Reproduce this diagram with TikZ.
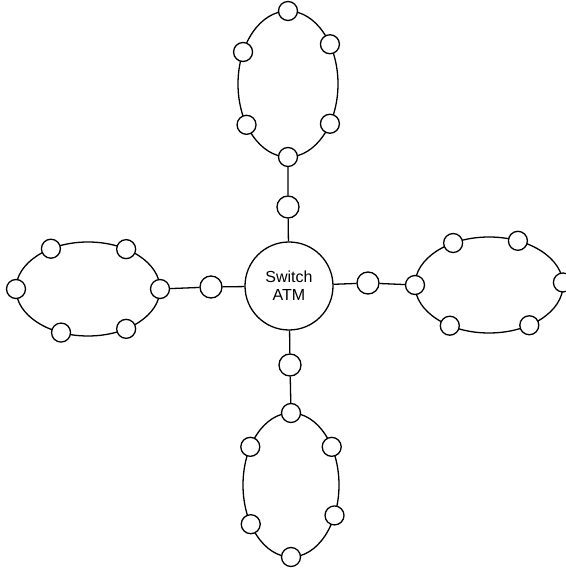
\documentclass[tikz,border=0pt]{standalone}
\usepackage{fontspec}
\newfontfamily\switchfont{Liberation Sans}
\usetikzlibrary{positioning}
\tikzstyle{ring} = [line width=1.3pt]
\tikzstyle{link} = [line width=1.3pt]
\tikzstyle{station} = [circle,draw,fill=white,line width=1.3pt,inner sep=0pt,minimum size=19pt]
\tikzstyle{gateway} = [station,minimum size=22pt]
\tikzstyle{switch box} = [circle,draw,line width=1.3pt,minimum size=88pt,align=center,font=\switchfont\fontsize{16}{18}\selectfont]

\begin{document}
\begin{tikzpicture}[x=1pt,y=1pt]
        \useasboundingbox (0,0) rectangle (565,570);
        % draw switch
        \node[switch box] (switch) at (289,284) {Switch\\ATM};

        % draw rings
        \draw[ring] (288,486) ellipse (50pt and 73pt);
        \draw[ring] (291,85) ellipse (48pt and 72pt);
        \draw[ring] (88,281) ellipse (72pt and 47pt);
        \draw[ring] (489,285) ellipse (74pt and 48pt);

        % draw stations on each ring
        \foreach \a [count=\i] in {90,33,154,214,-33,-90} {
        	\path (288,486) ++(\a:50pt and 73pt) node[station] (top\i) {};
        }
        \foreach \a [count=\i] in {90,32,148,213,-25,-90} {
        	\path (291,85) ++(\a:48pt and 72pt) node[station] (bottom\i) {};
        }
        \foreach \a [count=\i] in {0,58,121,180,248,-58} {
        	\path (88,281) ++(\a:72pt and 47pt) node[station] (left\i) {};
        }
        \foreach \a [count=\i] in {180,119,67,3,238,-57} {
        	\path (489,285) ++(\a:74pt and 48pt) node[station] (right\i) {};
        }

        % draw gateways between switch and rings
        \node[gateway] (gwtop) at (288,363) {};
        \node[gateway] (gwbottom) at (290,205) {};
        \node[gateway] (gwleft) at (211,283) {};
        \node[gateway] (gwright) at (368,287) {};

        % draw links
        \draw[link] (switch) -- (gwtop) -- (top6);
        \draw[link] (switch) -- (gwbottom) -- (bottom1);
        \draw[link] (switch) -- (gwleft) -- (left1);
        \draw[link] (switch) -- (gwright) -- (right1);
    \end{tikzpicture}
\end{document}
